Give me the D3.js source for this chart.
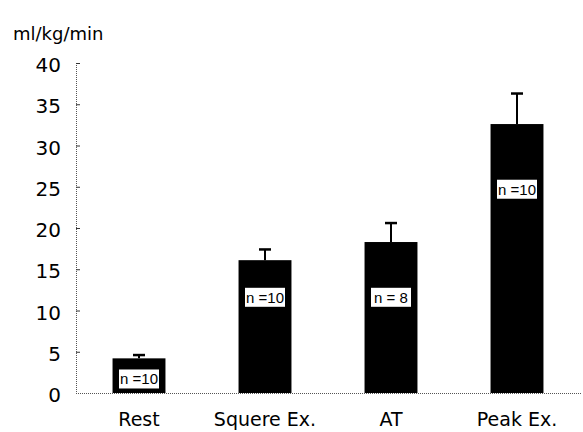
<!DOCTYPE html>
<html><head><meta charset="utf-8">
<script src="https://cdn.jsdelivr.net/npm/d3@7"></script>
<style>
html,body{margin:0;padding:0;background:#fff;}
text{font-family:"DejaVu Sans",sans-serif;fill:#000;}
</style></head>
<body><svg id="c" width="583" height="432"></svg>
<script>
const categories = ["Rest", "Squere Ex.", "AT", "Peak Ex."];
const means = [4.2, 16.1, 18.3, 32.6];
const sds = [0.4, 1.3, 2.3, 3.7];
const nLabels = ["n =10", "n =10", "n = 8", "n =10"];
const nLabelAt = [1.7, 11.6, 11.6, 24.7];
const yTicks = [0, 5, 10, 15, 20, 25, 30, 35, 40];
const yTitle = "ml/kg/min";

(function () {
const svg = d3.select("#c");
const mL = 76, mR = 580, mT = 63, mB = 393;
const x = d3.scaleBand().domain(categories).range([mL, mR]).paddingInner(0.58).paddingOuter(0.29);
const y = d3.scaleLinear().domain([0, 40]).range([mB, mT]);

svg.append("text").attr("x", 13).attr("y", 40).attr("font-size", 18).text(yTitle);

svg.append("line").attr("x1", mL).attr("x2", mR + 2).attr("y1", mB + 0.5).attr("y2", mB + 0.5)
  .attr("stroke", "#555").attr("stroke-width", 1).attr("stroke-dasharray", "1,1");

const ya = svg.append("g").attr("transform", `translate(${mL},0)`)
  .call(d3.axisRight(y).tickValues(yTicks).tickSize(4).tickFormat(""));
ya.select(".domain").attr("stroke", "#555").attr("stroke-dasharray", "1,1").attr("d", `M0.5,${mT}V${mB}`);
ya.selectAll(".tick line").attr("stroke", "#333");
ya.selectAll(".tick").filter(d => d === 0).remove();
svg.selectAll(".ylab").data(yTicks).join("text").attr("class", "ylab")
  .attr("x", 61).attr("y", d => y(d) + 2).attr("dy", "0.36em").attr("text-anchor", "end")
  .attr("font-size", 20).text(d => d);

const data = categories.map((c, i) => ({c, m: means[i], s: sds[i], n: nLabels[i], at: nLabelAt[i]}));
svg.selectAll(".bar").data(data).join("rect").attr("class", "bar")
  .attr("x", d => x(d.c)).attr("width", x.bandwidth())
  .attr("y", d => y(d.m)).attr("height", d => y(0) - y(d.m)).attr("fill", "#000");

svg.selectAll(".err").data(data).join("line").attr("class", "err")
  .attr("x1", d => x(d.c) + x.bandwidth() / 2).attr("x2", d => x(d.c) + x.bandwidth() / 2)
  .attr("y1", d => y(d.m)).attr("y2", d => y(d.m + d.s)).attr("stroke", "#000").attr("stroke-width", 2);
svg.selectAll(".cap").data(data).join("line").attr("class", "cap")
  .attr("x1", d => x(d.c) + x.bandwidth() / 2 - 6).attr("x2", d => x(d.c) + x.bandwidth() / 2 + 6)
  .attr("y1", d => y(d.m + d.s)).attr("y2", d => y(d.m + d.s)).attr("stroke", "#000").attr("stroke-width", 2.5);

const lg = svg.selectAll(".nl").data(data).join("g").attr("class", "nl")
  .attr("transform", d => `translate(${x(d.c) + x.bandwidth() / 2},${y(d.at)})`);
lg.append("rect").attr("x", -20).attr("y", -9.5).attr("width", 40).attr("height", 19).attr("fill", "#fff");
lg.append("text").attr("text-anchor", "middle").attr("dy", "0.36em").attr("font-size", 15)
  .style("font-family", "'Liberation Sans', Arial, sans-serif").text(d => d.n);

svg.selectAll(".xl").data(categories).join("text").attr("class", "xl")
  .attr("x", d => x(d) + x.bandwidth() / 2).attr("y", 426).attr("text-anchor", "middle")
  .attr("font-size", 19).text(d => d);
})();
</script></body></html>
